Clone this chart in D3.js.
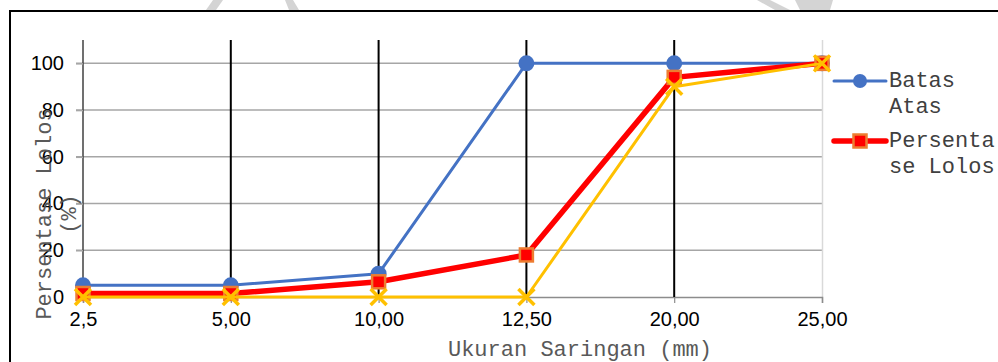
<!DOCTYPE html>
<html>
<head>
<meta charset="utf-8">
<script src="https://cdn.jsdelivr.net/npm/d3@7"></script>
<style>
  html, body { margin: 0; padding: 0; background: #fff; }
  svg { display: block; }
</style>
</head>
<body>
<svg id="chart" width="998" height="362"></svg>
<script>
// ---- data ----
const categories = ["2,5", "5,00", "10,00", "12,50", "20,00", "25,00"];
const batasAtas = [5, 5, 10, 100, 100, 100];
const persentaseLolos = [1.5, 1.5, 6.5, 18, 94, 100];
const batasBawah = [0, 0, 0, 0, 90, 100];
const yTicks = [0, 20, 40, 60, 80, 100];
const dropLineCats = ["5,00", "10,00", "12,50", "20,00"];
const legendBatasAtas = ["Batas", "Atas"];
const legendLolos = ["Persenta", "se Lolos"];
const yTitleLines = ["Persentase Lolos", "(%)"];
const xTitle = "Ukuran Saringan (mm)";

const svg = d3.select("#chart");

// faint watermark fragments above the frame
const wm = [
  [[213,0],[223,0],[216,10],[206,10]],
  [[285,0],[293,0],[299,10],[289,10]],
  [[757,0],[770,0],[790,10],[775,10]],
  [[795,0],[833,0],[830,10],[800,10]]
];
svg.selectAll("polygon.wm").data(wm).join("polygon")
  .attr("class","wm")
  .attr("points", d => d.map(p => p.join(",")).join(" "))
  .attr("fill", "#d4d4d4");

// frame
svg.append("rect")
  .attr("x", 10).attr("y", 11).attr("width", 1000).attr("height", 400)
  .attr("fill", "#fff").attr("stroke", "#000").attr("stroke-width", 2);

const x = d3.scalePoint().domain(categories).range([83, 822]).padding(0);
const y = d3.scaleLinear().domain([0, 110]).range([297, 40]);

// horizontal gridlines
const gridG = svg.append("g");
gridG.selectAll("line").data(yTicks.filter(t => t > 0)).join("line")
  .attr("x1", 76).attr("x2", 822)
  .attr("y1", d => y(d)).attr("y2", d => y(d))
  .attr("stroke", "#a6a6a6").attr("stroke-width", 1.5);

// right plot border
svg.append("line")
  .attr("x1", 822.5).attr("x2", 822.5).attr("y1", 40).attr("y2", 297)
  .attr("stroke", "#d9d9d9").attr("stroke-width", 1.5);

// x axis
const xAxis = d3.axisBottom(x).tickSize(6).tickPadding(10);
const xg = svg.append("g").attr("transform", `translate(0,${y(0)})`).call(xAxis);
xg.select(".domain").attr("stroke", "#8c8c8c").attr("stroke-width", 1.5);
xg.selectAll(".tick line").attr("stroke", "#8c8c8c").attr("stroke-width", 1.2);
xg.selectAll(".tick text")
  .attr("font-family", "'Liberation Sans', Arial, sans-serif")
  .attr("font-size", 20).attr("fill", "#000").attr("dy", "0.71em")
  .attr("y", 15);

// y axis
const yAxis = d3.axisLeft(y).tickValues(yTicks).tickSize(7).tickPadding(12);
const yg = svg.append("g").attr("transform", `translate(${x(categories[0])},0)`).call(yAxis);
yg.select(".domain").attr("stroke", "#404040").attr("stroke-width", 1.5)
  .attr("d", `M0,${y(110)}V${y(0)}`);
yg.selectAll(".tick line").attr("stroke", "#a6a6a6").attr("stroke-width", 1.5);
yg.selectAll(".tick text")
  .attr("font-family", "'Liberation Sans', Arial, sans-serif")
  .attr("font-size", 20).attr("fill", "#000");

// vertical black lines
svg.append("g").selectAll("line").data(dropLineCats).join("line")
  .attr("x1", d => x(d)).attr("x2", d => x(d))
  .attr("y1", y(110)).attr("y2", y(0))
  .attr("stroke", "#000").attr("stroke-width", 2);

// axis titles
const yTitle = svg.append("text")
  .attr("transform", "translate(43,214) rotate(-90)")
  .attr("text-anchor", "middle")
  .attr("font-family", "'Liberation Mono', 'Courier New', monospace")
  .attr("font-size", 22).attr("fill", "#595959");
yTitle.selectAll("tspan").data(yTitleLines).join("tspan")
  .attr("x", 0).attr("dy", (d, i) => i === 0 ? "0.35em" : "25px")
  .text(d => d);

svg.append("text")
  .attr("x", 580).attr("y", 356)
  .attr("text-anchor", "middle")
  .attr("font-family", "'Liberation Mono', 'Courier New', monospace")
  .attr("font-size", 22).attr("fill", "#595959")
  .text(xTitle);

// series
const line = d3.line().x((d, i) => x(categories[i])).y(d => y(d));

// Batas Atas (blue)
svg.append("path").datum(batasAtas)
  .attr("d", line).attr("fill", "none")
  .attr("stroke", "#4472c4").attr("stroke-width", 3).attr("stroke-linejoin", "round");
svg.append("g").selectAll("circle").data(batasAtas).join("circle")
  .attr("cx", (d, i) => x(categories[i])).attr("cy", d => y(d))
  .attr("r", 8).attr("fill", "#4472c4");

// Persentase Lolos (red)
svg.append("path").datum(persentaseLolos)
  .attr("d", line).attr("fill", "none")
  .attr("stroke", "#ff0000").attr("stroke-width", 5.5).attr("stroke-linejoin", "round");
svg.append("g").selectAll("rect").data(persentaseLolos).join("rect")
  .attr("x", (d, i) => x(categories[i]) - 6.5).attr("y", d => y(d) - 6.5)
  .attr("width", 13).attr("height", 13)
  .attr("fill", "#ff0000").attr("stroke", "#ed7d31").attr("stroke-width", 2.5);

// Batas Bawah (yellow)
svg.append("path").datum(batasBawah)
  .attr("d", line).attr("fill", "none")
  .attr("stroke", "#ffc000").attr("stroke-width", 3).attr("stroke-linejoin", "round");
svg.append("g").selectAll("path").data(batasBawah).join("path")
  .attr("transform", (d, i) => `translate(${x(categories[i])},${y(d)})`)
  .attr("d", "M-8,-8L8,8M-8,8L8,-8")
  .attr("stroke", "#ffc000").attr("stroke-width", 3.5).attr("fill", "none");

// legend
const legendFont = "'Liberation Mono', 'Courier New', monospace";
const lg = svg.append("g");
// entry 1
lg.append("line").attr("x1", 834).attr("x2", 886).attr("y1", 81).attr("y2", 81)
  .attr("stroke", "#4472c4").attr("stroke-width", 3).attr("stroke-linecap", "round");
lg.append("circle").attr("cx", 860).attr("cy", 81).attr("r", 7).attr("fill", "#4472c4");
lg.append("text").attr("font-family", legendFont).attr("font-size", 22).attr("fill", "#404040")
  .selectAll("tspan").data(legendBatasAtas).join("tspan")
  .attr("x", 889).attr("y", (d, i) => 87 + i * 26).text(d => d);
// entry 2
lg.append("line").attr("x1", 834).attr("x2", 886).attr("y1", 141).attr("y2", 141)
  .attr("stroke", "#ff0000").attr("stroke-width", 5.5).attr("stroke-linecap", "round");
lg.append("rect").attr("x", 853.5).attr("y", 134.5).attr("width", 13).attr("height", 13)
  .attr("fill", "#ff0000").attr("stroke", "#ed7d31").attr("stroke-width", 2.5);
lg.append("text").attr("font-family", legendFont).attr("font-size", 22).attr("fill", "#404040")
  .selectAll("tspan").data(legendLolos).join("tspan")
  .attr("x", 889).attr("y", (d, i) => 147 + i * 26).text(d => d);
</script>
</body>
</html>
